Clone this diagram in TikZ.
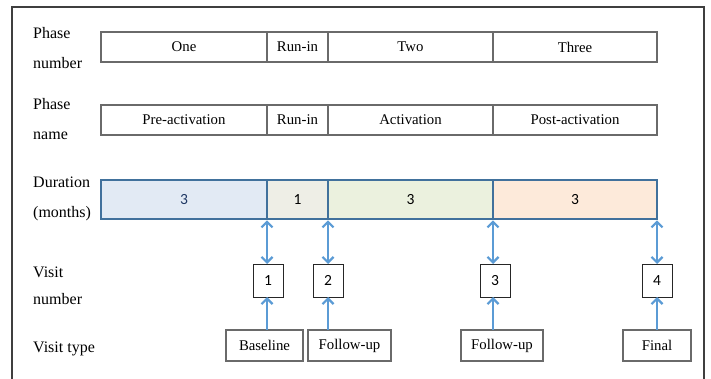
\documentclass[tikz,border=0pt]{standalone}
\usepackage{fontspec}
\setmainfont{Liberation Serif}
\newfontfamily\calibri{Carlito}
\usetikzlibrary{positioning,arrows.meta}
\definecolor{framegray}{HTML}{3F3F3F}
\definecolor{boxgray}{HTML}{6A6A6A}
\definecolor{durblue}{HTML}{41719C}
\definecolor{arrowblue}{HTML}{5B9BD5}
\definecolor{numblue}{HTML}{1F3864}
\definecolor{fillone}{HTML}{E2EAF4}
\definecolor{fillrun}{HTML}{EEEEE6}
\definecolor{filltwo}{HTML}{EBF1DE}
\definecolor{fillthree}{HTML}{FDEADA}

\begin{document}
\begin{tikzpicture}[
    x=1pt, y=-1pt,
    font=\fontsize{14.8}{18}\selectfont,
    >={Straight Barb[length=5.5pt, width=11pt, line width=2.2pt]},
    rowlbl/.style={anchor=west, align=left, inner sep=0pt, font=\fontsize{16}{30}\selectfont},
    cell/.style={rectangle, draw=boxgray, line width=1.1pt, minimum height=30pt, inner sep=0pt, outer sep=0pt, anchor=west},
    durcell/.style={cell, draw=durblue, line width=2.6pt, minimum height=39pt, font=\calibri\fontsize{15.5}{18}\selectfont},
    visitno/.style={rectangle, draw=black!85, line width=1pt, minimum width=30pt, minimum height=33pt, inner sep=0pt, outer sep=0pt, font=\calibri\fontsize{15.5}{18}\selectfont},
    visittype/.style={rectangle, draw=boxgray, line width=1.1pt, minimum height=31pt, inner sep=0pt, outer sep=0pt},
    arr/.style={->, line width=1.2pt, color=arrowblue},
    dblarr/.style={arr, <->, shorten <=1.3pt}
]
\useasboundingbox (0,0) rectangle (711,379);

% --- outer frame, open at the bottom ---
\draw[framegray, line width=1.5pt] (12,390) -- (12,7) -- (704,7) -- (704,390);

% --- row labels ---
\node[rowlbl] (lblpn) at (33,48.5)    {Phase\\number};
\node[rowlbl] (lblpname) at (33,119.5) {Phase\\name};
\node[rowlbl] (lbldur) at (33,199)    {Duration\\(months)};
\node[rowlbl] (lblvn) at (33,286)     {Visit\\[-3pt]number};
\node[rowlbl, anchor=base west] (lblvt) at (33,352) {Visit type};

% --- phase number row ---
\node[cell, minimum width=166pt] (pn1) at (101,47) {One};
\node[cell, minimum width=61pt, right=0pt of pn1]  (pn2) {Run-in};
\node[cell, minimum width=165pt, right=0pt of pn2] (pn3) {Two};
\node[cell, minimum width=164pt, right=0pt of pn3] (pn4) {Three};

% --- phase name row ---
\node[cell, minimum width=166pt] (pm1) at (101,120) {Pre-activation};
\node[cell, minimum width=61pt, right=0pt of pm1]  (pm2) {Run-in};
\node[cell, minimum width=165pt, right=0pt of pm2] (pm3) {Activation};
\node[cell, minimum width=164pt, right=0pt of pm3] (pm4) {Post-activation};

% --- duration row ---
\node[durcell, fill=fillone, text=numblue, minimum width=166pt] (dur1) at (101,199.5) {3};
\node[durcell, fill=fillrun, minimum width=61pt, right=0pt of dur1]    (dur2) {1};
\node[durcell, fill=filltwo, minimum width=165pt, right=0pt of dur2]   (dur3) {3};
\node[durcell, fill=fillthree, minimum width=164pt, right=0pt of dur3] (dur4) {3};

% --- visits ---
\node[visitno, below=45pt of dur1.south east, xshift=1pt] (vn1) {1};
\node[visitno, below=45pt of dur2.south east] (vn2) {2};
\node[visitno, below=45pt of dur3.south east, xshift=2pt] (vn3) {3};
\node[visitno, below=45pt of dur4.south east] (vn4) {4};

\node[visittype, minimum width=77pt, below=33pt of vn1, xshift=-3.5pt] (vt1) {Baseline};
\node[visittype, minimum width=83pt, below=33pt of vn2, xshift=21.5pt] (vt2) {Follow-up};
\node[visittype, minimum width=82pt, below=33pt of vn3, xshift=7pt]    (vt3) {Follow-up};
\node[visittype, minimum width=68pt, below=33pt of vn4]                (vt4) {Final};

% --- arrows ---
\draw[dblarr] (dur1.south east) -- (vn1.north -| dur1.south east);
\draw[dblarr] (dur2.south east) -- (vn2.north);
\draw[dblarr] (dur3.south east) -- (vn3.north -| dur3.south east);
\draw[dblarr] (dur4.south east) -- (vn4.north);

\draw[arr] (vt1.north -| dur1.south east) -- (vn1.south -| dur1.south east);
\draw[arr] (vt2.north -| vn2) -- (vn2.south);
\draw[arr] (vt3.north -| dur3.south east) -- (vn3.south -| dur3.south east);
\draw[arr] (vt4.north -| vn4) -- (vn4.south);

\end{tikzpicture}
\end{document}
